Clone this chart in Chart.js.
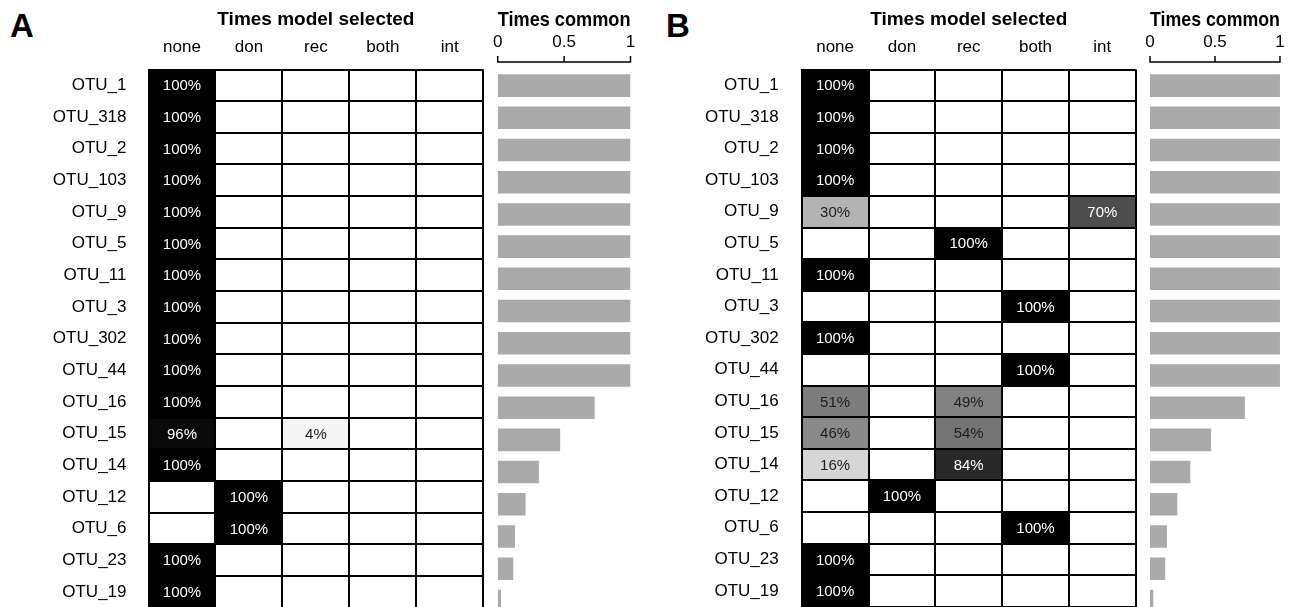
<!DOCTYPE html>
<html><head><meta charset="utf-8">
<script src="https://cdn.jsdelivr.net/npm/chart.js@4.4.1/dist/chart.umd.min.js"></script>
<style>
html,body{margin:0;padding:0;background:#fff;overflow:hidden;width:1302px;height:607px;}
canvas{position:absolute;left:0;top:0;}
.lbl{position:absolute;font-family:"Liberation Sans",Arial,sans-serif;font-weight:bold;font-size:33px;color:#000;line-height:1;}
</style></head><body>
<div class="lbl" style="left:10px;top:9px">A</div>
<div class="lbl" style="left:666px;top:9px">B</div>
<canvas id="hA" width="1302" height="640"></canvas>
<canvas id="bA" width="1302" height="640"></canvas>
<canvas id="hB" width="1302" height="640"></canvas>
<canvas id="bB" width="1302" height="640"></canvas>
<script>
// ---------- data ----------
const otus = ['OTU_1','OTU_318','OTU_2','OTU_103','OTU_9','OTU_5','OTU_11','OTU_3','OTU_302','OTU_44','OTU_16','OTU_15','OTU_14','OTU_12','OTU_6','OTU_23','OTU_19'];
const models = ['none','don','rec','both','int'];
const heatTitle = 'Times model selected';
const barTitle = 'Times common';
const commonTicks = [0, 0.5, 1];

// Panel A: percent of times each model selected
const aNone = [100,100,100,100,100,100,100,100,100,100,100,96,100,0,0,100,100];
const aDon  = [0,0,0,0,0,0,0,0,0,0,0,0,0,100,100,0,0];
const aRec  = [0,0,0,0,0,0,0,0,0,0,0,4,0,0,0,0,0];
const aBoth = [0,0,0,0,0,0,0,0,0,0,0,0,0,0,0,0,0];
const aInt  = [0,0,0,0,0,0,0,0,0,0,0,0,0,0,0,0,0];
const commonA = [1,1,1,1,1,1,1,1,1,1,0.73,0.47,0.31,0.21,0.13,0.117,0.025];

// Panel B
const bNone = [100,100,100,100,30,0,100,0,100,0,51,46,16,0,0,100,100];
const bDon  = [0,0,0,0,0,0,0,0,0,0,0,0,0,100,0,0,0];
const bRec  = [0,0,0,0,0,100,0,0,0,0,49,54,84,0,0,0,0];
const bBoth = [0,0,0,0,0,0,0,100,0,100,0,0,0,0,100,0,0];
const bInt  = [0,0,0,0,70,0,0,0,0,0,0,0,0,0,0,0,0];
const commonB = [1,1,1,1,1,1,1,1,1,1,0.73,0.47,0.31,0.21,0.13,0.117,0.025];

// ---------- layout / style ----------
const FONT = '"Liberation Sans", Arial, sans-serif';
const W = 1302, H = 640;
const GRID_TOP = 69.5, GRID_BOTTOM = 617, AXIS_Y = 62;

function gray(v){ const g = Math.round(255 * (1 - v / 100)); return 'rgb(' + g + ',' + g + ',' + g + ')'; }

const cellText = {
  id: 'cellText',
  afterDatasetsDraw(chart) {
    const {ctx, scales: {x, y}} = chart;
    ctx.save();
    ctx.font = '15px ' + FONT;
    ctx.textAlign = 'center';
    ctx.textBaseline = 'middle';
    chart.data.datasets.forEach((ds, c) => {
      ds.vals.forEach((v, i) => {
        if (v > 0) {
          ctx.fillStyle = v >= 60 ? '#ffffff' : '#1e1e1e';
          ctx.fillText(v + '%', x.getPixelForValue(c + 0.5), y.getPixelForValue(i) + 1);
        }
      });
    });
    ctx.restore();
  }
};

// axis line + tick marks of the "Times common" scale, placed slightly above the plot
const topAxis = {
  id: 'topAxis',
  afterDraw(chart) {
    const {ctx, scales: {x}} = chart;
    ctx.save();
    ctx.strokeStyle = '#000';
    ctx.lineWidth = 1.5;
    ctx.beginPath();
    ctx.moveTo(x.getPixelForValue(commonTicks[0]) - 0.75, AXIS_Y);
    ctx.lineTo(x.getPixelForValue(commonTicks[commonTicks.length - 1]) + 0.75, AXIS_Y);
    commonTicks.forEach(t => {
      const px = x.getPixelForValue(t);
      ctx.moveTo(px, AXIS_Y);
      ctx.lineTo(px, AXIS_Y - 6);
    });
    ctx.stroke();
    ctx.restore();
  }
};

function heatmap(id, cols, left, right, labelGap) {
  const yW = 150;
  const datasets = cols.map((vals, c) => ({
    data: vals.map(() => [c, c + 1]),
    vals: vals,
    backgroundColor: vals.map(gray),
    borderWidth: 0, grouped: false, categoryPercentage: 1, barPercentage: 1
  }));
  new Chart(document.getElementById(id), {
    type: 'bar',
    data: {labels: otus, datasets: datasets},
    options: {
      indexAxis: 'y', responsive: false, animation: false, devicePixelRatio: 1,
      layout: {padding: {left: left - yW, right: W - right, top: 0, bottom: H - GRID_BOTTOM}},
      plugins: {legend: {display: false}, tooltip: {enabled: false}},
      scales: {
        x: {type: 'linear', position: 'bottom', min: 0, max: models.length,
            ticks: {display: false, stepSize: 1},
            grid: {color: '#000', lineWidth: 2, drawTicks: false, z: 1},
            border: {color: '#000', width: 2, z: 1},
            afterFit: s => { s.height = 0; }},
        xt: {type: 'category', position: 'top', labels: models, offset: true,
             grid: {display: false, drawTicks: false}, border: {display: false},
             ticks: {color: '#000', font: {family: FONT, size: 17}, padding: 12},
             title: {display: true, text: heatTitle, color: '#000',
                     font: {family: FONT, size: 19, weight: 'bold'}, padding: {top: 8.6, bottom: 0}},
             afterFit: s => { s.height = GRID_TOP; }},
        y: {type: 'category', offset: true,
            grid: {offset: true, color: '#000', lineWidth: 2, drawTicks: false, z: 1},
            border: {color: '#000', width: 2, z: 1},
            ticks: {color: '#000', font: {family: FONT, size: 17}, padding: labelGap, autoSkip: false},
            afterFit: s => { s.width = yW; }}
      }
    },
    plugins: [cellText]
  });
}

function bars(id, vals, left, right) {
  new Chart(document.getElementById(id), {
    type: 'bar',
    data: {labels: otus, datasets: [{
      data: vals,
      backgroundColor: '#aaaaaa', borderWidth: 0, categoryPercentage: 1, barPercentage: 0.7
    }]},
    options: {
      indexAxis: 'y', responsive: false, animation: false, devicePixelRatio: 1,
      layout: {padding: {left: left, right: W - right, top: 0, bottom: H - GRID_BOTTOM}},
      plugins: {legend: {display: false}, tooltip: {enabled: false}},
      scales: {
        x: {type: 'linear', position: 'top', min: 0, max: 1,
            afterBuildTicks: s => { s.ticks = commonTicks.map(v => ({value: v})); },
            ticks: {color: '#000', font: {family: FONT, size: 17}, padding: 17.3, callback: v => String(v)},
            grid: {display: false, drawTicks: false},
            border: {display: false},
            title: {display: true, text: barTitle, color: '#000', align: 'start',
                    font: {family: FONT, size: 20.5, weight: 'bold'}, padding: {top: 7.7, bottom: 0}},
            afterFit: s => { s.height = GRID_TOP; }},
        y: {type: 'category', display: false}
      }
    },
    plugins: [topAxis]
  });
}

heatmap('hA', [aNone, aDon, aRec, aBoth, aInt], 148.5, 483.3, 22);
bars('bA', commonA, 497.7, 630.5);
heatmap('hB', [bNone, bDon, bRec, bBoth, bInt], 801.7, 1135.7, 23);
bars('bB', commonB, 1150, 1281.7);
</script>
</body></html>
